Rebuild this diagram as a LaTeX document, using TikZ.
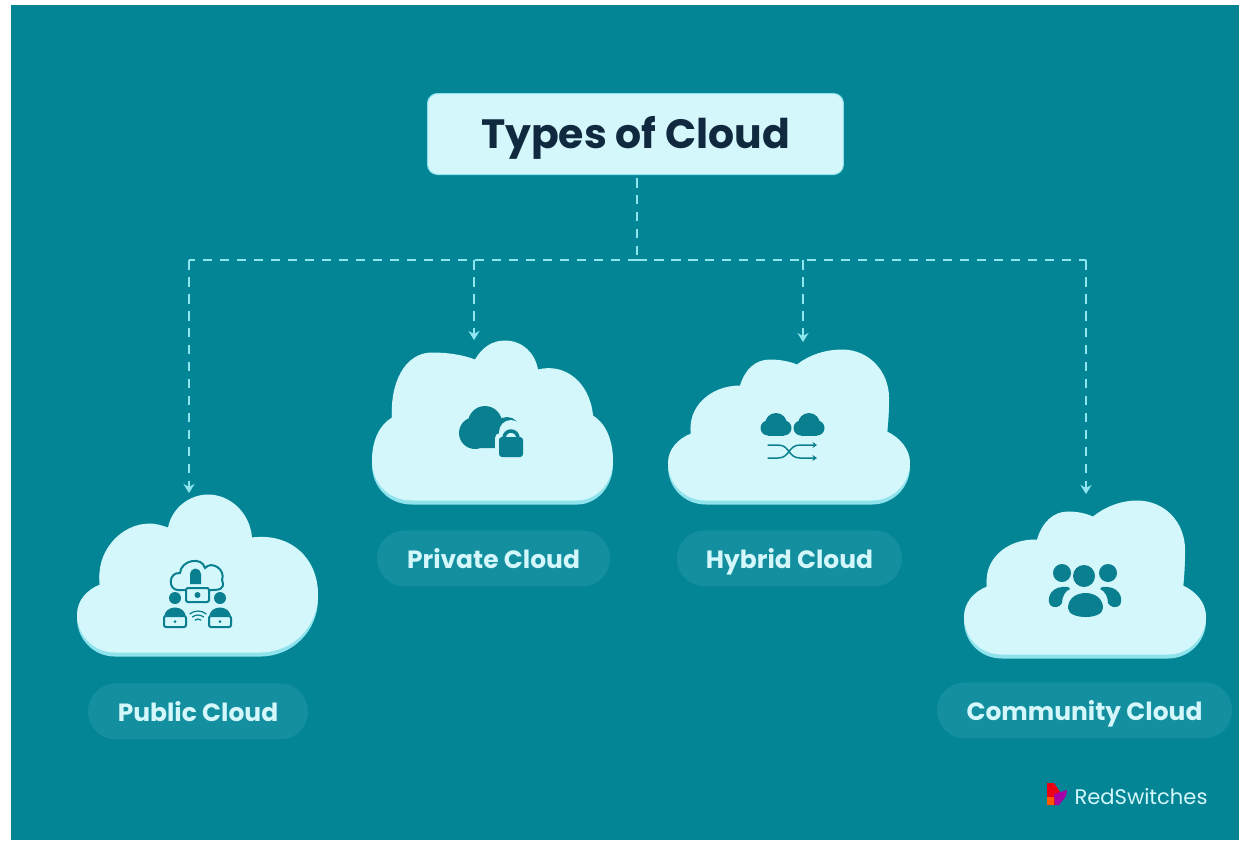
\documentclass[tikz,border=0pt]{standalone}
\usepackage{fontspec}
\setmainfont{Poppins}
\usepackage{xcolor}
\usetikzlibrary{positioning,calc,arrows.meta}
\definecolor{bgteal}{HTML}{048596}
\definecolor{pillteal}{HTML}{138F9F}
\definecolor{cloudfill}{HTML}{D3F7FB}
\definecolor{cloudrim}{HTML}{8FE3EC}
\definecolor{inkteal}{HTML}{0A7F8F}
\definecolor{inkdark}{HTML}{10293F}
\definecolor{wirecol}{HTML}{8FE6EF}
% one cloud: rim below, body above
\newcommand{\puffcloud}[1]{%
  \fill[cloudrim, shift={(0,1.5)}] #1;
  \fill[cloudfill, shift={(0,-2.5)}] #1;
}
\begin{document}
\begin{tikzpicture}
        [
    x=0.02cm, y=-0.02cm,
    basic/.style={text centered, inner sep=0pt},
    titlebox/.style={basic, fill=cloudfill, draw=cloudrim, line width=0.02cm, rounded corners=0.2cm, minimum width=8.32cm, minimum height=1.62cm, text height=0.72cm, text depth=0.16cm, text=inkdark, font=\fontsize{23.3}{26}\selectfont\bfseries},
    pill/.style={basic, fill=pillteal, minimum height=1.12cm, rounded corners=0.55cm, text height=0.5cm, text depth=0.1cm, text=cloudfill, font=\fontsize{14.2}{17}\selectfont\bfseries},
    wire/.style={wirecol, line width=0.05cm, dash pattern=on 0.19cm off 0.15cm},
    iconline/.style={inkteal, line width=0.04cm, line cap=round},
    >={Stealth[length=0.18cm, width=0.22cm]}
    ]

    \useasboundingbox (0,0) rectangle (1239,840);
    % Background
    \fill[bgteal] (11,5) rectangle (1239,840);

    % Clouds
    \puffcloud{(115,655) .. controls (93,655) and (77,637) .. (77,617) .. controls (77,603) and (87,592) .. (100,587)
        .. controls (95,555) and (120,526) .. (150,526) .. controls (156,526) and (162,528) .. (168,530)
        .. controls (172,510) and (190,497) .. (208,497) .. controls (230,497) and (250,515) .. (252,540)
        .. controls (290,535) and (318,560) .. (318,597) .. controls (318,630) and (292,655) .. (260,655) -- cycle}
    \puffcloud{(412,503) .. controls (388,503) and (372,485) .. (372,463) .. controls (372,442) and (380,427) .. (392,420)
        .. controls (390,385) and (405,355) .. (432,355) .. controls (450,355) and (465,358) .. (475,362)
        .. controls (482,350) and (492,343) .. (505,343) .. controls (522,343) and (535,355) .. (538,372)
        .. controls (565,365) and (590,385) .. (593,418) .. controls (605,425) and (613,442) .. (613,463)
        .. controls (613,485) and (597,503) .. (577,503) -- cycle}
    \puffcloud{(706,503) .. controls (684,503) and (668,486) .. (668,465) .. controls (668,452) and (678,441) .. (691,436)
        .. controls (687,410) and (710,388) .. (740,388) .. controls (745,372) and (755,362) .. (770,362)
        .. controls (780,362) and (790,364) .. (797,367) .. controls (808,358) and (825,352) .. (842,352)
        .. controls (870,352) and (889,375) .. (889,400) .. controls (889,412) and (888,425) .. (887,434)
        .. controls (900,440) and (910,452) .. (910,465) .. controls (910,486) and (893,503) .. (872,503) -- cycle}
    \puffcloud{(1002,657) .. controls (980,657) and (964,640) .. (964,619) .. controls (964,605) and (974,594) .. (987,589)
        .. controls (983,562) and (1007,541) .. (1037,542) .. controls (1042,525) and (1053,514) .. (1068,514)
        .. controls (1078,514) and (1086,516) .. (1093,519) .. controls (1104,510) and (1120,503) .. (1137,503)
        .. controls (1165,503) and (1185,525) .. (1185,552) .. controls (1185,565) and (1184,578) .. (1183,588)
        .. controls (1196,594) and (1206,605) .. (1206,619) .. controls (1206,640) and (1189,657) .. (1168,657) -- cycle}
    \coordinate (publicbase) at (198,655);
    \coordinate (privatebase) at (493.5,503);
    \coordinate (hybridbase) at (789.5,503);
    \coordinate (communitybase) at (1084.5,657);

    % Title and labels
    \node [titlebox] (types) at (635.5,134) {Types of Cloud};
    \node [pill, minimum width=4.4cm, below=0.56cm of publicbase] (public) {Public Cloud};
    \node [pill, minimum width=4.66cm, below=0.54cm of privatebase] (private) {Private Cloud};
    \node [pill, minimum width=4.5cm, below=0.54cm of hybridbase] (hybrid) {Hybrid Cloud};
    \node [pill, minimum width=5.9cm, below=0.5cm of communitybase] (community) {Community Cloud};

    % Connectors
    \coordinate (hub) at (637,260);
    \coordinate (tippublic) at (189,493);
    \coordinate (tipprivate) at (474,340);
    \coordinate (tiphybrid) at (803,342);
    \coordinate (tipcommunity) at (1086,494);
    \draw [wire, shorten <=0.06cm] (types.south -| hub) -- (hub);
    \draw [wire] (hub) -- (tippublic |- hub);
    \draw [wire] (hub) -- (tipcommunity |- hub);
    \draw [wire, ->] (tippublic |- hub) -- (tippublic);
    \draw [wire, ->] (tipprivate |- hub) -- (tipprivate);
    \draw [wire, ->] (tiphybrid |- hub) -- (tiphybrid);
    \draw [wire, ->] (tipcommunity |- hub) -- (tipcommunity);

    % Icon public
    \draw [iconline] (185,590) -- (178,590) .. controls (168,590) and (168,572) .. (180,573)
        .. controls (181,560) and (202,556) .. (205,568) .. controls (212,560) and (226,570) .. (222,580)
        .. controls (226,590) and (218,590) .. (210,590);
    \fill [inkteal] (190,584) rectangle (201,574) (195.5,574) circle[radius=5.5];
    \draw [iconline, fill=cloudfill, rounded corners=0.04cm] (186,588) rectangle (209,602);
    \fill [inkteal] (197.5,595) circle[radius=3];
    \foreach \px in {175,220} {
        \fill [inkteal] (\px,598) circle[radius=6];
        \fill [inkteal] (\px-11,618) .. controls (\px-11,604) and (\px+11,604) .. (\px+11,618) -- cycle;
        \draw [iconline, fill=cloudfill, rounded corners=0.04cm] (\px-11,616) rectangle (\px+11,627);
        \fill [inkteal] (\px,621.5) circle[radius=1.5];
    }
    \foreach \wr in {5,9,13}
        \draw [inkteal, line width=0.025cm] ($(198,624)+(-130:\wr)$) arc[start angle=-130, end angle=-50, radius=\wr];

    % Icon private
    \fill [inkteal] (475,433) circle[radius=16] (485,423) circle[radius=17] (507,430) circle[radius=13];
    \fill [inkteal, rounded corners=0.2cm] (470,425) rectangle (515,448);
    \fill [cloudfill, rounded corners=0.1cm] (495,433) rectangle (527,460);
    \fill [cloudfill] (511,432) circle[radius=12];
    \draw [inkteal, line width=0.07cm] (504,438) arc[start angle=180, end angle=360, radius=7] -- (518,438);
    \fill [inkteal, rounded corners=0.06cm] (499,437) rectangle (523,457);

    % Icon hybrid
    \foreach \cx in {776,809} {
        \fill [inkteal] (\cx,424) circle[radius=11] (\cx-8,428) circle[radius=7.5] (\cx+8,428) circle[radius=7.5];
        \fill [inkteal] (\cx-8,426) rectangle (\cx+8,435.5);
    }
    \begin{scope}[>={Stealth[length=0.09cm, width=0.12cm]}]
    \draw [iconline, line width=0.03cm, ->] (768,445) -- (778,445) .. controls (790,445) and (788,458) .. (800,458) -- (817,458);
    \draw [iconline, line width=0.03cm, ->] (768,458) -- (778,458) .. controls (790,458) and (788,445) .. (800,445) -- (817,445);
    \end{scope}

    % Icon community
    \fill [inkteal] (1068,608) .. controls (1068,588) and (1103,588) .. (1103,608) .. controls (1103,620) and (1068,620) .. (1068,608) -- cycle;
    \fill [inkteal] (1062,573) circle[radius=9] (1084,576) circle[radius=11] (1108,573) circle[radius=9];
    \fill [inkteal] (1068,587) .. controls (1052,585) and (1046,597) .. (1050,605) .. controls (1054,609) and (1060,607) .. (1062,603) .. controls (1062,597) and (1065,591) .. (1070,589) -- cycle;
    \fill [inkteal] (1102,587) .. controls (1118,585) and (1124,597) .. (1120,605) .. controls (1116,609) and (1110,607) .. (1108,603) .. controls (1108,597) and (1105,591) .. (1100,589) -- cycle;

    % Logo
    \node [basic, text=cloudfill, font=\fontsize{12}{15}\selectfont] (brand) at (1141,797) {RedSwitches};
    \fill [red!70!purple] (1047,783) -- (1054,783) -- (1060,792) -- (1056,805) -- (1047,805) -- cycle;
    \fill [violet!70!magenta] (1054,794) -- (1067,790) -- (1066,796) -- (1059,805) -- (1055,805) -- cycle;
    \fill [orange!70!red] (1047,797) rectangle (1054,805);
\end{tikzpicture}
\end{document}
